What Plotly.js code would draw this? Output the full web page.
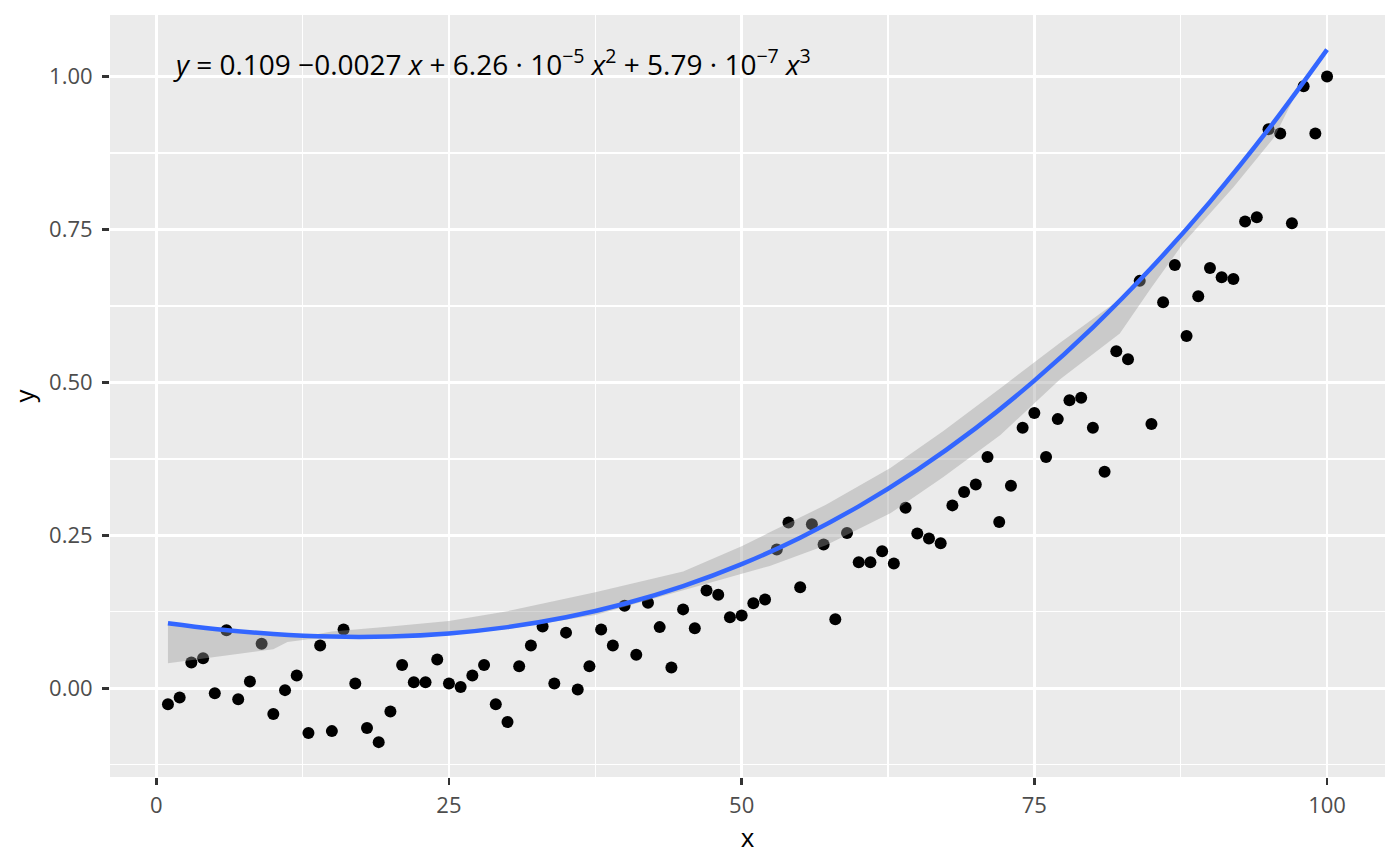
<!DOCTYPE html>
<html>
<head>
<meta charset="utf-8">
<script src="https://cdn.plot.ly/plotly-3.0.1.min.js"></script>
<style>
  html, body { margin: 0; padding: 0; background: #ffffff; }
  #chart { width: 1400px; height: 866px; }
</style>
</head>
<body>
<div id="chart"></div>
<script>
// Observed points (x = 1..100)
const pointX = Array.from({length: 100}, (_, i) => i + 1);
const pointY = [
  -0.026, -0.015, 0.042, 0.049, -0.008, 0.095, -0.018, 0.011, 0.073, -0.042,
  -0.003, 0.021, -0.073, 0.070, -0.070, 0.096, 0.008, -0.065, -0.088, -0.038,
  0.038, 0.010, 0.010, 0.047, 0.008, 0.002, 0.021, 0.038, -0.026, -0.055,
  0.036, 0.070, 0.101, 0.008, 0.091, -0.002, 0.036, 0.096, 0.070, 0.135,
  0.055, 0.140, 0.100, 0.034, 0.129, 0.098, 0.160, 0.153, 0.116, 0.119,
  0.139, 0.145, 0.227, 0.271, 0.165, 0.268, 0.235, 0.113, 0.254, 0.206,
  0.206, 0.224, 0.204, 0.295, 0.253, 0.245, 0.237, 0.299, 0.321, 0.333,
  0.378, 0.272, 0.331, 0.426, 0.450, 0.378, 0.440, 0.471, 0.475, 0.426,
  0.354, 0.551, 0.538, 0.666, 0.432, 0.631, 0.692, 0.576, 0.641, 0.687,
  0.672, 0.669, 0.763, 0.770, 0.914, 0.907, 0.760, 0.984, 0.907, 1.000
];

// Fitted curve, values read at regular x positions
const fitX = [1, 5, 10, 15, 20, 25, 30, 35, 40, 45, 50, 55, 60, 65, 70, 75, 80, 85, 90, 95, 100];
const fitY = [0.1064, 0.0971, 0.0888, 0.0845, 0.0847, 0.0897, 0.1000, 0.1160, 0.1382, 0.1670,
              0.2029, 0.2462, 0.2974, 0.3570, 0.4253, 0.5029, 0.5901, 0.6874, 0.7952, 0.9139, 1.0440];

// Shaded band
const bandX     = [1, 6, 10, 11.2, 13, 15, 20, 25, 30, 37.5, 45, 50, 52.4, 57.2, 62.7, 67.2, 72.1, 77.2, 82.3, 85, 87.7, 92, 95.5, 97.7];
const bandLower = [0.041, 0.054, 0.064, 0.0755, 0.080, 0.082, 0.083, 0.087, 0.097, 0.120, 0.160, 0.187, 0.200, 0.234, 0.286, 0.345, 0.414, 0.505, 0.580, 0.655, 0.727, 0.819, 0.901, 0.985];
const bandUpper = [0.104, 0.095, 0.088, 0.087, 0.086, 0.093, 0.101, 0.110, 0.126, 0.157, 0.191, 0.232, 0.255, 0.300, 0.360, 0.420, 0.4905, 0.565, 0.636, 0.684, 0.744, 0.836, 0.922, 0.987];

const xTicks = [0, 25, 50, 75, 100];
const xTickText = ['0', '25', '50', '75', '100'];
const yTicks = [0, 0.25, 0.5, 0.75, 1];
const yTickText = ['0.00', '0.25', '0.50', '0.75', '1.00'];

const equationText = '<i>y</i> = 0.109 \u22120.0027 <i>x</i> + 6.26 \u00b7 10<sup>\u22125</sup> <i>x</i><sup>2</sup> + 5.79 \u00b7 10<sup>\u22127</sup> <i>x</i><sup>3</sup>';

const FONT = 'Open Sans, Noto Sans, sans-serif';

const traces = [
  {
    x: pointX, y: pointY, type: 'scatter', mode: 'markers',
    marker: {color: '#000000', size: 12, line: {width: 0}},
    hoverinfo: 'x+y', showlegend: false
  },
  {
    x: bandX.concat(bandX.slice().reverse()),
    y: bandLower.concat(bandUpper.slice().reverse()),
    type: 'scatter', mode: 'lines', fill: 'toself',
    fillcolor: 'rgba(153,153,153,0.4)',
    line: {width: 0, color: 'rgba(0,0,0,0)'},
    hoverinfo: 'skip', showlegend: false
  },
  {
    x: fitX, y: fitY, type: 'scatter', mode: 'lines',
    line: {color: '#3366FF', width: 4.5, shape: 'spline', smoothing: 1},
    hoverinfo: 'skip', showlegend: false
  }
];

const axisCommon = {
  showgrid: true, gridcolor: '#FFFFFF', gridwidth: 2.5,
  zeroline: false, showline: false,
  ticks: 'outside', ticklen: 7, tickwidth: 2.5, tickcolor: '#333333',
  tickfont: {family: FONT, size: 22, color: '#4D4D4D'},
  tickmode: 'array'
};

const layout = {
  width: 1400, height: 866,
  paper_bgcolor: '#FFFFFF', plot_bgcolor: '#EBEBEB',
  margin: {l: 110, r: 15, t: 15, b: 89},
  showlegend: false,
  font: {family: FONT, color: '#000000'},
  xaxis: Object.assign({}, axisCommon, {
    range: [-3.95, 104.95],
    tickvals: xTicks, ticktext: xTickText,
    ticklabelstandoff: 2,
    minor: {tickvals: [12.5, 37.5, 62.5, 87.5], showgrid: true, gridcolor: '#FFFFFF', gridwidth: 1.3, ticks: ''},
    title: {text: 'x', font: {family: FONT, size: 26, color: '#000000'}, standoff: 0}
  }),
  yaxis: Object.assign({}, axisCommon, {
    range: [-0.145, 1.1006],
    tickvals: yTicks, ticktext: yTickText,
    ticklabelstandoff: 5,
    minor: {tickvals: [-0.125, 0.125, 0.375, 0.625, 0.875], showgrid: true, gridcolor: '#FFFFFF', gridwidth: 1.3, ticks: ''},
    title: {text: 'y', font: {family: FONT, size: 26, color: '#000000'}, standoff: 6}
  }),
  annotations: [{
    x: 1.3, y: 1.023, xref: 'x', yref: 'y',
    xanchor: 'left', yanchor: 'middle',
    text: equationText, showarrow: false,
    font: {family: FONT, size: 28, color: '#000000'}
  }]
};

Plotly.newPlot('chart', traces, layout, {displayModeBar: false, staticPlot: true});
</script>
</body>
</html>
